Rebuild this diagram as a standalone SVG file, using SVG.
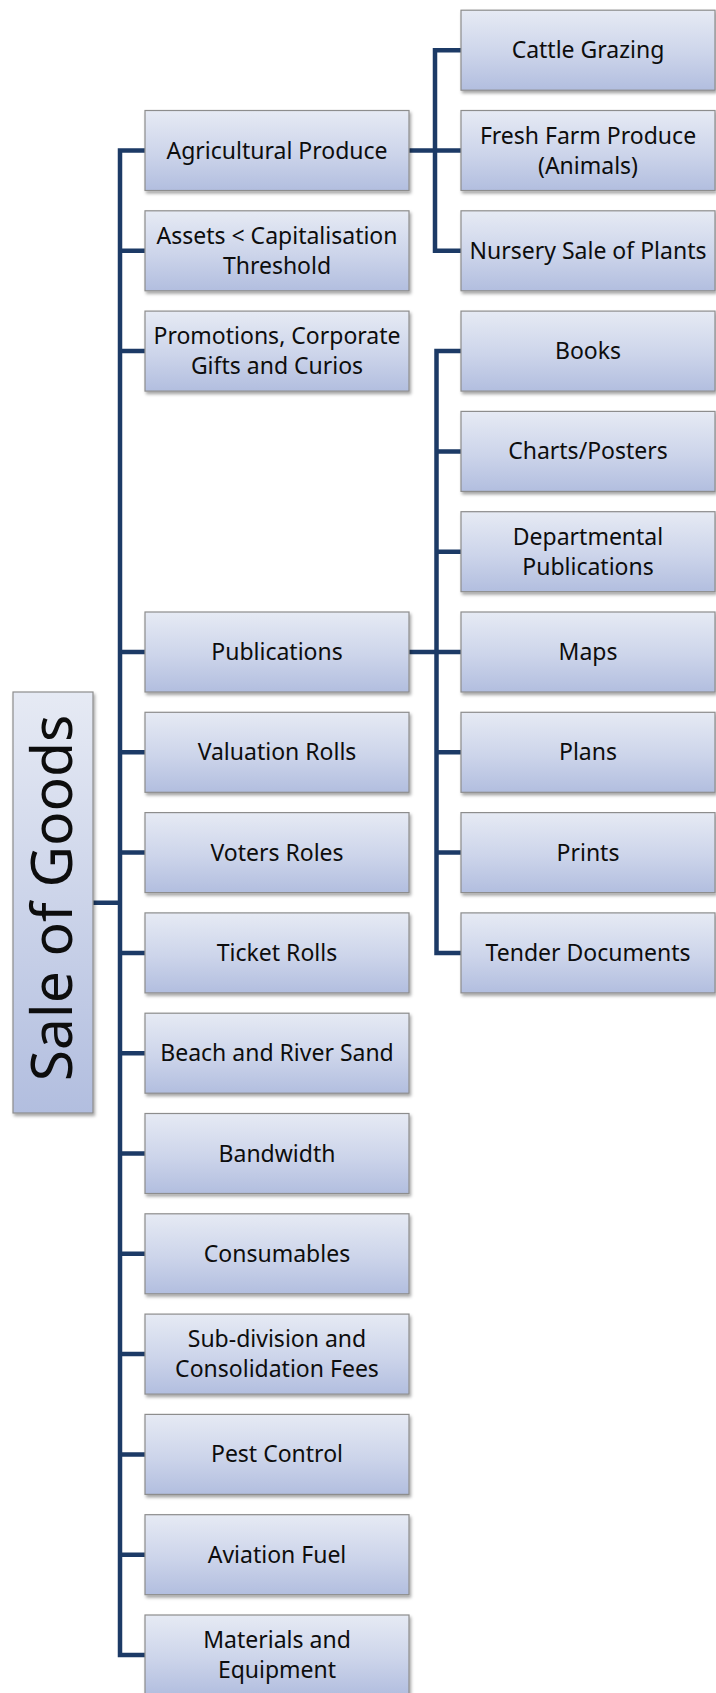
<svg xmlns="http://www.w3.org/2000/svg" width="716" height="1693" viewBox="0 0 716 1693">
<style>
.box{fill:url(#g);stroke:#8d8d8d;stroke-width:1.2;filter:url(#sh)}
.t{font-family:"Noto Sans","Open Sans",sans-serif;font-size:23px;fill:#0d0d0d;text-anchor:middle}
.root{font-family:"Noto Sans","Open Sans",sans-serif;font-size:57px;fill:#0d0d0d;text-anchor:middle}
.c{fill:none;stroke:#1c3a66;stroke-width:4.5;stroke-linejoin:miter}
</style>
<defs>
<linearGradient id="g" x1="0" y1="0" x2="0" y2="1">
<stop offset="0" stop-color="#e6eaf4"/>
<stop offset="0.55" stop-color="#ccd4ea"/>
<stop offset="1" stop-color="#b2bedf"/>
</linearGradient>
<linearGradient id="gr" x1="0" y1="0" x2="0" y2="1">
<stop offset="0" stop-color="#e6eaf4"/>
<stop offset="1" stop-color="#b2bedf"/>
</linearGradient>
<filter id="sh" x="-10%" y="-10%" width="130%" height="130%">
<feDropShadow dx="1.5" dy="2.5" stdDeviation="1.8" flood-color="#000" flood-opacity="0.35"/>
</filter>
</defs>
<rect width="716" height="1693" fill="#fff"/>
<g id="connectors">
<path class="c" d="M93 902.7H120M145 150.5H120V1655H145M120 250.8H145M120 351.1H145M120 652H145M120 752.3H145M120 852.6H145M120 952.9H145M120 1053.2H145M120 1153.5H145M120 1253.8H145M120 1354.1H145M120 1454.4H145M120 1554.7H145"/>
<path class="c" d="M409 150.5H461M461 50.2H435V250.8H461"/>
<path class="c" d="M409 652H461M461 351.1H436.5V952.9H461M436.5 451.4H461M436.5 551.7H461M436.5 752.3H461M436.5 852.6H461"/>
</g>
<g id="root">
<rect x="13" y="692" width="80" height="421" fill="url(#gr)" stroke="#8d8d8d" stroke-width="1.2" filter="url(#sh)"/>
<text class="root" transform="translate(72 898) rotate(-90)">Sale of Goods</text>
</g>
<g id="agri"><rect class="box" x="145" y="110.5" width="264" height="80"/><text class="t" x="277" y="158.5">Agricultural Produce</text></g>
<g id="assets"><rect class="box" x="145" y="210.8" width="264" height="80"/><text class="t" x="277" y="244">Assets &lt; Capitalisation</text><text class="t" x="277" y="274">Threshold</text></g>
<g id="promotions"><rect class="box" x="145" y="311.1" width="264" height="80"/><text class="t" x="277" y="344.3">Promotions, Corporate</text><text class="t" x="277" y="374.3">Gifts and Curios</text></g>
<g id="publications"><rect class="box" x="145" y="612" width="264" height="80"/><text class="t" x="277" y="660">Publications</text></g>
<g id="valuation"><rect class="box" x="145" y="712.3" width="264" height="80"/><text class="t" x="277" y="760.3">Valuation Rolls</text></g>
<g id="voters"><rect class="box" x="145" y="812.6" width="264" height="80"/><text class="t" x="277" y="860.6">Voters Roles</text></g>
<g id="ticket"><rect class="box" x="145" y="912.9" width="264" height="80"/><text class="t" x="277" y="960.9">Ticket Rolls</text></g>
<g id="beach"><rect class="box" x="145" y="1013.2" width="264" height="80"/><text class="t" x="277" y="1061.2">Beach and River Sand</text></g>
<g id="bandwidth"><rect class="box" x="145" y="1113.5" width="264" height="80"/><text class="t" x="277" y="1161.5">Bandwidth</text></g>
<g id="consumables"><rect class="box" x="145" y="1213.8" width="264" height="80"/><text class="t" x="277" y="1261.8">Consumables</text></g>
<g id="subdivision"><rect class="box" x="145" y="1314.1" width="264" height="80"/><text class="t" x="277" y="1347.3">Sub-division and</text><text class="t" x="277" y="1377.3">Consolidation Fees</text></g>
<g id="pest"><rect class="box" x="145" y="1414.4" width="264" height="80"/><text class="t" x="277" y="1462.4">Pest Control</text></g>
<g id="aviation"><rect class="box" x="145" y="1514.7" width="264" height="80"/><text class="t" x="277" y="1562.7">Aviation Fuel</text></g>
<g id="materials"><rect class="box" x="145" y="1615" width="264" height="80"/><text class="t" x="277" y="1648.2">Materials and</text><text class="t" x="277" y="1678.2">Equipment</text></g>
<g id="cattle"><rect class="box" x="461" y="10.2" width="254" height="80"/><text class="t" x="588" y="58.2">Cattle Grazing</text></g>
<g id="fresh"><rect class="box" x="461" y="110.5" width="254" height="80"/><text class="t" x="588" y="143.7">Fresh Farm Produce</text><text class="t" x="588" y="173.7">(Animals)</text></g>
<g id="nursery"><rect class="box" x="461" y="210.8" width="254" height="80"/><text class="t" x="588" y="258.8">Nursery Sale of Plants</text></g>
<g id="books"><rect class="box" x="461" y="311.1" width="254" height="80"/><text class="t" x="588" y="359.1">Books</text></g>
<g id="charts"><rect class="box" x="461" y="411.4" width="254" height="80"/><text class="t" x="588" y="459.4">Charts/Posters</text></g>
<g id="departmental"><rect class="box" x="461" y="511.7" width="254" height="80"/><text class="t" x="588" y="544.9">Departmental</text><text class="t" x="588" y="574.9">Publications</text></g>
<g id="maps"><rect class="box" x="461" y="612" width="254" height="80"/><text class="t" x="588" y="660">Maps</text></g>
<g id="plans"><rect class="box" x="461" y="712.3" width="254" height="80"/><text class="t" x="588" y="760.3">Plans</text></g>
<g id="prints"><rect class="box" x="461" y="812.6" width="254" height="80"/><text class="t" x="588" y="860.6">Prints</text></g>
<g id="tender"><rect class="box" x="461" y="912.9" width="254" height="80"/><text class="t" x="588" y="960.9">Tender Documents</text></g>
</svg>
